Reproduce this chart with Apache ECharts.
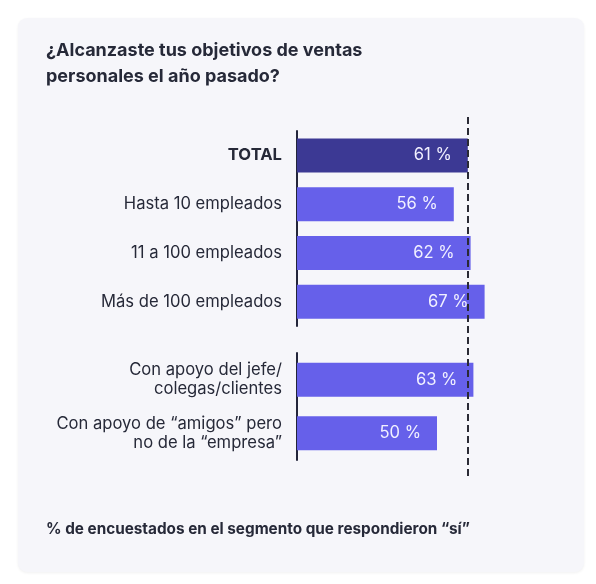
<!DOCTYPE html>
<html>
<head>
<meta charset="utf-8">
<script src="https://cdn.jsdelivr.net/npm/echarts@6/dist/echarts.min.js"></script>
<style>
  html, body { margin: 0; padding: 0; background: #ffffff; }
  #chart { width: 596px; height: 584px; }
</style>
</head>
<body>
<div id="chart"></div>
<script>
// datos
const sizeCategories = ['TOTAL', 'Hasta 10 empleados', '11 a 100 empleados', 'Más de 100 empleados']
const sizeValues = [61, 56, 62, 67]
const supportCategories = ['Con apoyo del jefe/\ncolegas/clientes', 'Con apoyo de “amigos” pero\nno de la “empresa”']
const supportValues = [63, 50]
const referenceValue = sizeValues[0] // línea discontinua en el TOTAL

const chart = echarts.init(document.getElementById('chart'))

const FONT = 'Inter'
const TEXT = '#262938'
const BAR = '#6660ea'
const BAR_TOTAL = '#3c3994'

const xAxisBase = {
  type: 'value',
  min: 0,
  max: 100,
  show: false
}

const yAxisBase = {
  type: 'category',
  inverse: true,
  axisTick: { show: false },
  axisLine: { show: true, lineStyle: { color: '#23253a', width: 2 } },
  axisLabel: {
    margin: 15,
    color: TEXT,
    fontFamily: FONT,
    fontSize: 16.6,
    lineHeight: 19,
    formatter: v => (v === 'TOTAL' ? '{b|' + v + '}' : v),
    rich: {
      b: { fontWeight: 'bold', fontFamily: FONT, fontSize: 16.6, color: TEXT }
    }
  }
}

const barLabel = {
  show: true,
  position: 'insideRight',
  distance: 16,
  color: '#f1f0ff',
  fontFamily: FONT,
  fontSize: 16.6,
  formatter: '{c} %'
}

const option = {
  backgroundColor: '#ffffff',
  animation: false,
  graphic: [
    {
      type: 'rect',
      z: -10,
      shape: { x: 18, y: 18, width: 566, height: 554, r: 9 },
      style: { fill: '#f6f6fa', shadowBlur: 3, shadowColor: 'rgba(0,0,0,0.06)', shadowOffsetY: 1 }
    }
  ],
  title: [
    {
      text: '¿Alcanzaste tus objetivos de ventas\npersonales el año pasado?',
      left: 41,
      top: 33,
      textStyle: { fontFamily: FONT, fontSize: 18, fontWeight: 'bold', color: TEXT, lineHeight: 26 }
    },
    {
      text: '% de encuestados en el segmento que respondieron “sí”',
      left: 41,
      top: 517,
      textStyle: { fontFamily: FONT, fontSize: 15.3, fontWeight: 'bold', color: TEXT }
    }
  ],
  grid: [
    { left: 297, width: 280, top: 131, height: 195 },
    { left: 297, width: 280, top: 353, height: 107 },
    { left: 297, width: 280, top: 113, height: 363 }
  ],
  xAxis: [
    { ...xAxisBase, gridIndex: 0 },
    { ...xAxisBase, gridIndex: 1 },
    { ...xAxisBase, gridIndex: 2 }
  ],
  yAxis: [
    { ...yAxisBase, gridIndex: 0, data: sizeCategories },
    { ...yAxisBase, gridIndex: 1, data: supportCategories },
    { type: 'value', gridIndex: 2, show: false, min: 0, max: 1 }
  ],
  series: [
    {
      type: 'bar',
      xAxisIndex: 0,
      yAxisIndex: 0,
      barWidth: 34,
      data: sizeValues.map((v, i) => ({
        value: v,
        itemStyle: { color: i === 0 ? BAR_TOTAL : BAR }
      })),
      label: barLabel
    },
    {
      type: 'bar',
      xAxisIndex: 1,
      yAxisIndex: 1,
      barWidth: 34,
      itemStyle: { color: BAR },
      data: supportValues,
      label: barLabel
    },
    {
      type: 'line',
      xAxisIndex: 2,
      yAxisIndex: 2,
      data: [],
      silent: true,
      markLine: {
        symbol: 'none',
        silent: true,
        label: { show: false },
        lineStyle: { color: '#2a2a35', width: 2, type: [7, 4] },
        data: [{ xAxis: referenceValue }]
      }
    }
  ]
}

chart.setOption(option)
window.addEventListener('resize', () => chart.resize())
</script>
</body>
</html>
